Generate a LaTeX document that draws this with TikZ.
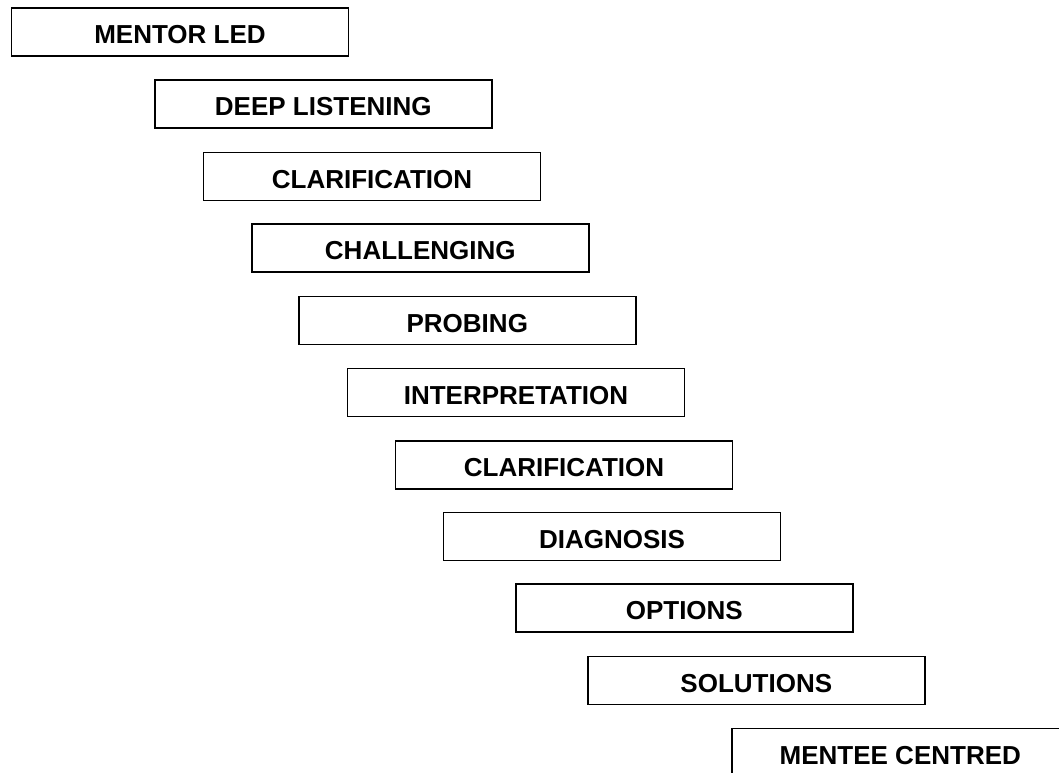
\documentclass[tikz,border=0pt]{standalone}
\usepackage{fontspec}
\setmainfont{Liberation Sans}
\begin{document}
\begin{tikzpicture}[x=1pt,y=-1pt,
  stepbox/.style={draw=black, line width=1.6pt, anchor=north west,
    minimum width=337pt, minimum height=48pt, inner sep=0pt,
    text height=23.6pt, text depth=0pt,
    font=\fontsize{26pt}{30pt}\selectfont\bfseries}]
\useasboundingbox (0,0) rectangle (1059,772);
\clip (0,0) rectangle (1059,772);
\node[stepbox] (n1)  at (10.7,7)    {MENTOR LED};
\node[stepbox] (n2)  at (154,79)    {DEEP LISTENING};
\node[stepbox] (n3)  at (202.7,151.7) {CLARIFICATION};
\node[stepbox] (n4)  at (251,223)   {CHALLENGING};
\node[stepbox] (n5)  at (298,295.7) {PROBING};
\node[stepbox] (n6)  at (346.7,367.7) {INTERPRETATION};
\node[stepbox] (n7)  at (394.7,440) {CLARIFICATION};
\node[stepbox] (n8)  at (442.7,511.7) {DIAGNOSIS};
\node[stepbox] (n9)  at (515,583.3) {OPTIONS};
\node[stepbox] (n10) at (587,655.7) {SOLUTIONS};
\node[stepbox] (n11) at (731,727.7) {MENTEE CENTRED};
\end{tikzpicture}
\end{document}
